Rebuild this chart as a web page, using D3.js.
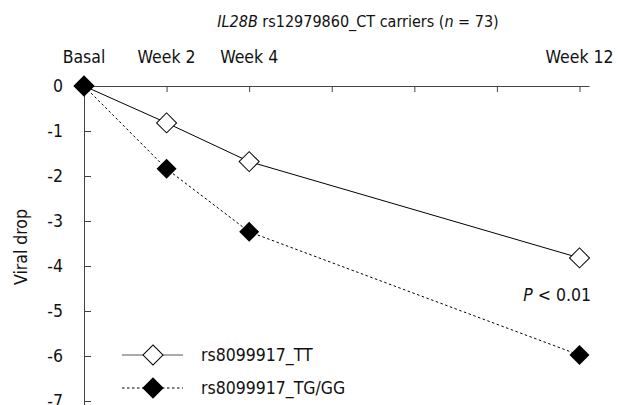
<!DOCTYPE html>
<html>
<head>
<meta charset="utf-8">
<script src="https://cdn.jsdelivr.net/npm/d3@7"></script>
<style>
body { margin: 0; background: #fff; }
svg text { font-family: "DejaVu Sans Condensed", "DejaVu Sans", sans-serif; fill: #111; }
</style>
</head>
<body>
<svg id="chart" width="620" height="405"></svg>
<script>
'use strict';

// chart data
var arrWeeks = [0, 2, 4, 12];
var arrCategories = ['Basal', 'Week 2', 'Week 4', 'Week 12'];
var arrTicksX = [0, 2, 4, 6, 8, 10, 12];
var arrTicksY = [0, -1, -2, -3, -4, -5, -6, -7];
var arrTT = [0, -0.82, -1.68, -3.82];
var arrTGGG = [0, -1.84, -3.24, -5.98];
var arrSeriesNames = ['rs8099917_TT', 'rs8099917_TG/GG'];

var svg = d3.select('#chart');

var xScale = d3.scaleLinear().domain([0, 12.23]).range([84, 589]);
var yScale = d3.scaleLinear().domain([0, -7.2]).range([86, 410]);

// title
var title = svg.append('text')
	.attr('x', 358)
	.attr('y', 27)
	.attr('text-anchor', 'middle')
	.style('font-size', '16px');
title.append('tspan').style('font-style', 'italic').text('IL28B');
title.append('tspan').text(' rs12979860_CT carriers (');
title.append('tspan').style('font-style', 'italic').text('n');
title.append('tspan').text(' = 73)');

// top x axis (ticks only)
var gX = svg.append('g')
	.attr('transform', 'translate(0,' + yScale(0) + ')')
	.call(d3.axisBottom(xScale).tickValues(arrTicksX).tickSize(6).tickSizeOuter(0).tickFormat(''));
gX.selectAll('path, line').attr('stroke', '#444');

svg.selectAll('text.cat')
	.data(arrWeeks)
	.enter()
	.append('text')
	.attr('class', 'cat')
	.attr('x', function(d) { return xScale(d); })
	.attr('y', 63)
	.attr('text-anchor', 'middle')
	.style('font-size', '17.5px')
	.text(function(d, i) { return arrCategories[i]; });

// y axis
var gY = svg.append('g')
	.attr('transform', 'translate(' + xScale(0) + ',0)')
	.call(d3.axisLeft(yScale).tickValues(arrTicksY).tickSizeInner(-7).tickSizeOuter(0).tickPadding(21)
		.tickFormat(function(d) { return String(d); }));
gY.selectAll('path, line').attr('stroke', '#444');
gY.selectAll('text')
	.style('font-family', '"DejaVu Sans Condensed", "DejaVu Sans", sans-serif')
	.style('font-size', '17.5px')
	.attr('fill', '#111');

svg.append('text')
	.attr('transform', 'translate(27,247) rotate(-90)')
	.attr('text-anchor', 'middle')
	.style('font-size', '17.5px')
	.text('Viral drop');

// series
var line = d3.line()
	.x(function(d, i) { return xScale(arrWeeks[i]); })
	.y(function(d) { return yScale(d); });

svg.append('path')
	.datum(arrTT)
	.attr('d', line)
	.attr('fill', 'none')
	.attr('stroke', '#000')
	.attr('stroke-width', 1);

svg.append('path')
	.datum(arrTGGG)
	.attr('d', line)
	.attr('fill', 'none')
	.attr('stroke', '#000')
	.attr('stroke-width', 1)
	.attr('stroke-dasharray', '2.5,2.5');

var diamond = d3.symbol().type(d3.symbolSquare).size(200);

svg.selectAll('path.tt')
	.data(arrTT)
	.enter()
	.append('path')
	.attr('class', 'tt')
	.attr('d', diamond)
	.attr('transform', function(d, i) {
		return 'translate(' + xScale(arrWeeks[i]) + ',' + yScale(d) + ') rotate(45)';
	})
	.attr('fill', '#fff')
	.attr('stroke', '#000')
	.attr('stroke-width', 1);

svg.selectAll('path.tg')
	.data(arrTGGG)
	.enter()
	.append('path')
	.attr('class', 'tg')
	.attr('d', diamond)
	.attr('transform', function(d, i) {
		return 'translate(' + xScale(arrWeeks[i]) + ',' + yScale(d) + ') rotate(45)';
	})
	.attr('fill', '#000');

// p value
var pText = svg.append('text')
	.attr('x', 591)
	.attr('y', 301)
	.attr('text-anchor', 'end')
	.style('font-size', '17.5px');
pText.append('tspan').style('font-style', 'italic').text('P');
pText.append('tspan').text(' < 0.01');

// legend
var legend = svg.selectAll('g.legend')
	.data(arrSeriesNames)
	.enter()
	.append('g')
	.attr('class', 'legend')
	.attr('transform', function(d, i) { return 'translate(0,' + (355 + i * 33) + ')'; });

legend.append('line')
	.attr('x1', 122)
	.attr('x2', 183)
	.attr('stroke', function(d, i) { return i == 0 ? '#555' : '#000'; })
	.attr('stroke-width', 1)
	.attr('stroke-dasharray', function(d, i) { return i == 0 ? null : '2.5,2.5'; });

legend.append('path')
	.attr('d', diamond)
	.attr('transform', 'translate(153,0) rotate(45)')
	.attr('fill', function(d, i) { return i == 0 ? '#fff' : '#000'; })
	.attr('stroke', '#000')
	.attr('stroke-width', 1);

legend.append('text')
	.attr('x', 201)
	.attr('y', 6)
	.style('font-size', '17.5px')
	.text(function(d) { return d; });
</script>
</body>
</html>
